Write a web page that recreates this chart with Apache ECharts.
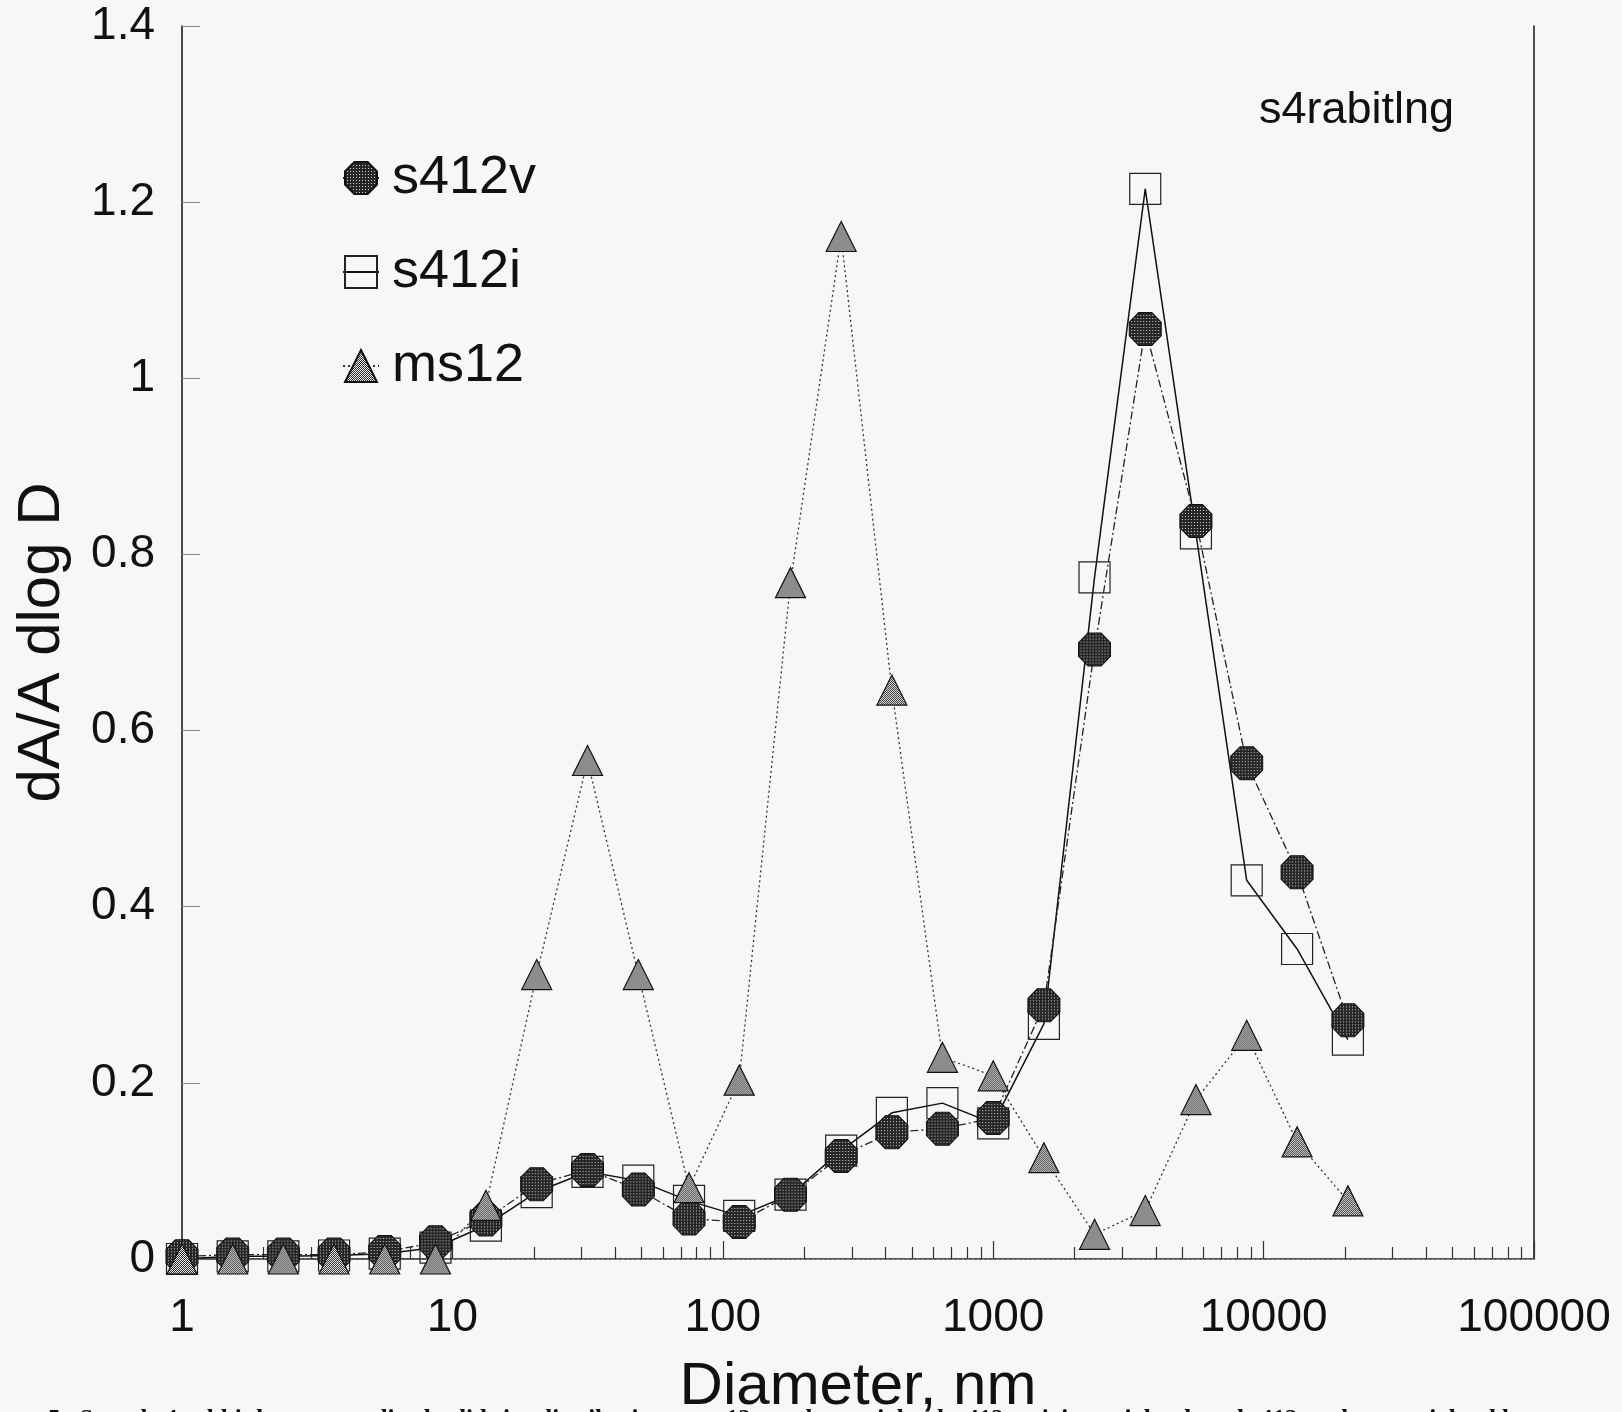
<!DOCTYPE html>
<html>
<head>
<meta charset="utf-8">
<script src="https://cdn.jsdelivr.net/npm/echarts@6/dist/echarts.min.js"></script>
<style>
  html, body { margin: 0; padding: 0; background: #f7f7f7; overflow: hidden; }
  #chart { width: 1622px; height: 1412px; }
</style>
</head>
<body>
<div id="chart"></div>
<script>
// Particle diameters (nm), shared by all three size distributions
const diameters = [1, 1.54, 2.37, 3.65, 5.62, 8.66, 13.3, 20.5, 31.6, 48.7, 75.0, 115,
                   178, 274, 422, 649, 1000, 1540, 2370, 3650, 5620, 8660, 13300, 20500];

// dA/A dlog D for each sample
const s412v = [0.003, 0.005, 0.005, 0.005, 0.008, 0.019, 0.045, 0.085, 0.101, 0.079, 0.046, 0.042,
               0.073, 0.117, 0.144, 0.148, 0.160, 0.288, 0.692, 1.056, 0.838, 0.563, 0.439, 0.271];
const s412i = [0.000, 0.003, 0.003, 0.004, 0.006, 0.013, 0.038, 0.076, 0.099, 0.089, 0.066, 0.049,
               0.073, 0.123, 0.166, 0.177, 0.154, 0.267, 0.774, 1.215, 0.824, 0.430, 0.352, 0.249];
const ms12  = [0.000, 0.000, 0.000, 0.000, 0.000, 0.000, 0.061, 0.323, 0.566, 0.323, 0.081, 0.203,
               0.768, 1.161, 0.646, 0.229, 0.208, 0.115, 0.028, 0.055, 0.181, 0.254, 0.133, 0.066];

// Axis tick values
const xTickLabels = [1, 10, 100, 1000, 10000, 100000];
const yTickLabels = [0, 0.2, 0.4, 0.6, 0.8, 1, 1.2, 1.4];
const minorMultipliers = [2, 3, 4, 5, 6, 7, 8, 9];
const xMinorTicks = [];
xTickLabels.slice(0, -1).forEach(d => minorMultipliers.forEach(m => xMinorTicks.push(d * m)));

const FONT = "'Liberation Sans', Arial, Helvetica, sans-serif";

// Halftone fills for the markers. Symbols are drawn scaled from a 2x2 box,
// so the pattern is scaled back to keep a fixed screen-pixel texture.
function halftone(kind, w, h) {
  const c = document.createElement('canvas');
  const ctx = c.getContext('2d');
  if (kind === 'dots') {
    c.width = 3; c.height = 3;
    ctx.fillStyle = '#262626'; ctx.fillRect(0, 0, 3, 3);
    ctx.fillStyle = '#d0d0d0'; ctx.fillRect(1, 1, 1, 1);
  } else {
    c.width = 2; c.height = 2;
    ctx.fillStyle = '#ececec'; ctx.fillRect(0, 0, 2, 2);
    ctx.fillStyle = '#2e2e2e'; ctx.fillRect(0, 0, 1, 1); ctx.fillRect(1, 1, 1, 1);
  }
  return { image: c, repeat: 'repeat', scaleX: 2 / w, scaleY: 2 / h };
}

const OCTAGON = 'path://M0.2929,0 L0.7071,0 L1,0.2929 L1,0.7071 L0.7071,1 L0.2929,1 L0,0.7071 L0,0.2929 Z';
const octSize = [32, 33];
const sqSize = [31, 31];
const triSize = [30, 30];

const pairs = ys => diameters.map((d, i) => [d, ys[i]]);

const chart = echarts.init(document.getElementById('chart'), null, { renderer: 'canvas' });

chart.setOption({
  animation: false,
  backgroundColor: '#f7f7f7',
  textStyle: { fontFamily: FONT },
  grid: { left: 182, right: 88, top: 26, bottom: 153, containLabel: false, outerBoundsMode: 'none' },
  legend: {
    orient: 'vertical',
    left: 337,
    top: 146,
    itemWidth: 36,
    itemHeight: 40,
    itemGap: 40,
    textStyle: { fontFamily: FONT, fontSize: 54, color: '#111', padding: [0, 0, 0, 8] },
    data: [
      { name: 's412v', itemStyle: { color: halftone('dots', 2, 2) } },
      { name: 's412i' },
      { name: 'ms12', itemStyle: { color: halftone('hatch', 2, 2) } }
    ]
  },
  xAxis: [
    {
      type: 'log', logBase: 10, min: 1, max: 100000,
      position: 'bottom',
      name: 'Diameter, nm', nameLocation: 'middle', nameGap: 98, nameMoveOverlap: false,
      nameTextStyle: { fontFamily: FONT, fontSize: 60, color: '#111' },
      axisLine: { onZero: false, lineStyle: { color: '#222', width: 1.5 } },
      axisTick: { inside: true, length: 18, customValues: xTickLabels, lineStyle: { color: '#333', width: 1.2 } },
      axisLabel: {
        customValues: xTickLabels, margin: 36,
        fontFamily: FONT, fontSize: 46, color: '#111',
        formatter: v => String(Math.round(v))
      },
      splitLine: { show: false }
    },
    {
      type: 'log', logBase: 10, min: 1, max: 100000,
      position: 'bottom',
      axisLine: { show: false },
      axisTick: { inside: true, length: 12, customValues: xMinorTicks, lineStyle: { color: '#333', width: 1.2 } },
      axisLabel: { show: false },
      splitLine: { show: false }
    },
    {
      type: 'log', logBase: 10, min: 1, max: 100000,
      position: 'top',
      axisLine: { show: true, lineStyle: { color: '#999', width: 1, type: [2, 3] } },
      axisTick: { show: false },
      axisLabel: { show: false },
      splitLine: { show: false }
    }
  ],
  yAxis: [
    {
      type: 'value', min: 0, max: 1.4, interval: 0.2,
      position: 'left',
      name: 'dA/A dlog D', nameLocation: 'middle', nameGap: 110, nameRotate: 90, nameMoveOverlap: false,
      nameTextStyle: { fontFamily: FONT, fontSize: 60, color: '#111' },
      axisLine: { show: true, onZero: false, lineStyle: { color: '#111', width: 1.5 } },
      axisTick: { show: true, inside: true, length: 18, lineStyle: { color: '#888', width: 1 } },
      axisLabel: { margin: 27, fontFamily: FONT, fontSize: 46, color: '#111' },
      splitLine: { show: false }
    },
    {
      type: 'value', min: 0, max: 1.4, interval: 0.2,
      position: 'right',
      axisLine: { show: true, onZero: false, lineStyle: { color: '#222', width: 1.6 } },
      axisTick: { show: false },
      axisLabel: { show: false },
      splitLine: { show: false }
    }
  ],
  series: [
    {
      name: 's412i', type: 'line', data: pairs(s412i),
      xAxisIndex: 0, yAxisIndex: 0,
      symbol: 'rect', symbolSize: sqSize, showAllSymbol: true,
      lineStyle: { color: '#111', width: 1.5, type: 'solid' },
      itemStyle: { color: 'rgba(0,0,0,0)', borderColor: '#222', borderWidth: 1.2 },
      emphasis: { disabled: true }
    },
    {
      name: 's412v', type: 'line', data: pairs(s412v),
      xAxisIndex: 0, yAxisIndex: 0,
      symbol: OCTAGON, symbolSize: octSize, showAllSymbol: true,
      lineStyle: { color: '#222', width: 1.3, type: [8, 3, 2, 3] },
      itemStyle: { color: halftone('dots', octSize[0], octSize[1]), borderColor: '#111', borderWidth: 1 },
      emphasis: { disabled: true }
    },
    {
      name: 'ms12', type: 'line', data: pairs(ms12),
      xAxisIndex: 0, yAxisIndex: 0,
      symbol: 'triangle', symbolSize: triSize, showAllSymbol: true,
      lineStyle: { color: '#333', width: 1.3, type: [2, 3] },
      itemStyle: { color: halftone('hatch', triSize[0], triSize[1]), borderColor: '#111', borderWidth: 1.2 },
      emphasis: { disabled: true }
    }
  ],
  graphic: [
    {
      type: 'text', left: 1259, top: 88,
      style: { text: 's4rabitlng', font: "45px 'Liberation Sans', Arial, sans-serif", fill: '#111' }
    },
    {
      type: 'text', x: 48, y: 1421,
      style: {
        text: '5.  Sample 4 rabbit lung normalized solid size distributions:  ms12 number weighted, s412 activity weighted, and s412v volume weighted by',
        font: "bold 25px 'Liberation Serif', 'Times New Roman', serif",
        fill: '#111', verticalAlign: 'middle', align: 'left'
      }
    }
  ]
});
</script>
</body>
</html>
